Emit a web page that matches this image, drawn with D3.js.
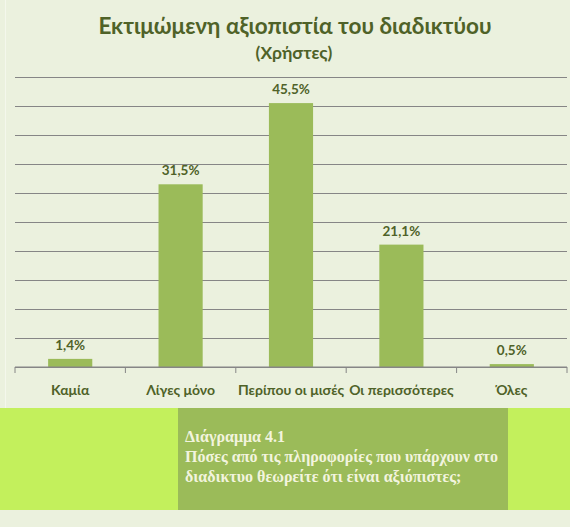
<!DOCTYPE html>
<html>
<head>
<meta charset="utf-8">
<script src="https://cdn.jsdelivr.net/npm/d3@7"></script>
<style>
  body { margin: 0; background: #EBF1DE; }
  svg { display: block; }
</style>
</head>
<body>
<div id="chart"></div>
<script>
// data
const categories = ["Καμία", "Λίγες μόνο", "Περίπου οι μισές", "Οι περισσότερες", "Όλες"];
const values = [1.4, 31.5, 45.5, 21.1, 0.5];
const yTicks = [0, 5, 10, 15, 20, 25, 30, 35, 40, 45, 50];
const title = "Εκτιμώμενη αξιοπιστία του διαδικτύου";
const subtitle = "(Χρήστες)";
const caption = ["Διάγραμμα 4.1", "Πόσες από τις πληροφορίες που υπάρχουν στο", "διαδικτυο θεωρείτε ότι είναι αξιόπιστες;"];

const W = 570, H = 527;
const plot = {left: 15, right: 567, top: 77, bottom: 367};

const svg = d3.select("#chart")
  .append("svg")
    .attr("width", W)
    .attr("height", H);

svg.append("rect")
  .attr("width", W).attr("height", H)
  .attr("fill", "#EBF1DE");

// thin left border
svg.append("line")
  .attr("x1", 5.5).attr("x2", 5.5).attr("y1", 0).attr("y2", 408)
  .attr("stroke", "#F4F7EC").attr("stroke-width", 1);

// titles
svg.append("text")
  .attr("x", 295).attr("y", 34)
  .attr("text-anchor", "middle")
  .style("font-family", "Lato, 'Open Sans', sans-serif")
  .style("font-weight", "bold")
  .style("font-size", "22.5px")
  .attr("fill", "#4F6228")
  .text(title);

svg.append("text")
  .attr("x", 294).attr("y", 59)
  .attr("text-anchor", "middle")
  .style("font-family", "Lato, 'Open Sans', sans-serif")
  .style("font-weight", "bold")
  .style("font-size", "17.5px")
  .attr("fill", "#4F6228")
  .text(subtitle);

// scales
const x = d3.scaleBand()
  .domain(categories)
  .range([plot.left, plot.right])
  .paddingInner(0.6)
  .paddingOuter(0.3);

const y = d3.scaleLinear()
  .domain([0, 50])
  .range([plot.bottom, plot.top]);

// gridlines
svg.append("g")
  .attr("transform", `translate(${plot.left},0)`)
  .call(d3.axisLeft(y).tickValues(yTicks).tickSize(-(plot.right - plot.left)).tickFormat(""))
  .call(g => g.select(".domain").remove())
  .call(g => g.selectAll("line").attr("stroke", "#868686").attr("stroke-width", 1.2));

// bars
svg.selectAll("rect.bar")
  .data(values)
  .join("rect")
    .attr("class", "bar")
    .attr("x", (d, i) => x(categories[i]))
    .attr("y", d => y(d))
    .attr("width", x.bandwidth())
    .attr("height", d => y(0) - y(d))
    .attr("fill", "#9BBB59");

// value labels
svg.selectAll("text.val")
  .data(values)
  .join("text")
    .attr("class", "val")
    .attr("x", (d, i) => x(categories[i]) + x.bandwidth() / 2)
    .attr("y", d => y(d) - 9)
    .attr("text-anchor", "middle")
    .style("font-family", "Lato, 'Open Sans', sans-serif")
    .style("font-weight", "bold")
    .style("font-size", "13.5px")
    .attr("fill", "#4F6228")
    .text(d => d.toFixed(1).replace(".", ",") + "%");

// x axis: ticks at band boundaries
const bounds = d3.range(categories.length + 1).map(i => plot.left + i * (plot.right - plot.left) / categories.length);
const xAxis = svg.append("g");
xAxis.append("line")
  .attr("x1", plot.left).attr("x2", plot.right)
  .attr("y1", plot.bottom).attr("y2", plot.bottom)
  .attr("stroke", "#868686").attr("stroke-width", 1.2);
xAxis.selectAll("line.tick")
  .data(bounds)
  .join("line")
    .attr("class", "tick")
    .attr("x1", d => d).attr("x2", d => d)
    .attr("y1", plot.bottom).attr("y2", plot.bottom + 6)
    .attr("stroke", "#868686");
xAxis.selectAll("text")
  .data(categories)
  .join("text")
    .attr("x", d => x(d) + x.bandwidth() / 2)
    .attr("y", 395)
    .attr("text-anchor", "middle")
    .style("font-family", "Lato, 'Open Sans', sans-serif")
    .style("font-weight", "bold")
    .style("font-size", "14px")
    .attr("fill", "#4F6228")
    .text(d => d);

// caption band
svg.append("rect")
  .attr("x", 0).attr("y", 408).attr("width", W).attr("height", 102)
  .attr("fill", "#C3F05C");
svg.append("rect")
  .attr("x", 178).attr("y", 408).attr("width", 330).attr("height", 102)
  .attr("fill", "#9BBB59");

svg.append("g")
  .selectAll("text")
  .data(caption)
  .join("text")
    .attr("x", 185)
    .attr("y", (d, i) => 442 + i * 20)
    .style("font-family", "'Liberation Serif', 'DejaVu Serif', serif")
    .style("font-weight", "bold")
    .style("font-size", "16px")
    .attr("fill", "#F2F4DE")
    .text(d => d);
</script>
</body>
</html>
